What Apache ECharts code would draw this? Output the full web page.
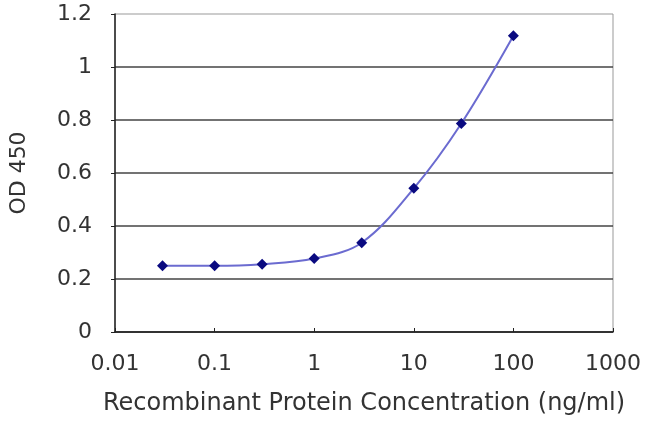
<!DOCTYPE html>
<html>
<head>
<meta charset="utf-8">
<script src="https://cdn.jsdelivr.net/npm/echarts@6/dist/echarts.min.js"></script>
<style>
  html, body { margin: 0; padding: 0; background: #fff; }
  #chart { width: 650px; height: 433px; }
</style>
</head>
<body>
<div id="chart"></div>
<script>
// concentrations (ng/ml) and OD 450 readings
const concentrations = [0.03, 0.1, 0.3, 1, 3, 10, 30, 100]
const od450 = [0.25, 0.25, 0.256, 0.277, 0.337, 0.542, 0.787, 1.118]

const points = concentrations.map((c, i) => [c, od450[i]])

const labelFont = { fontFamily: 'DejaVu Sans', fontSize: 22, color: '#333' }

const myChart = echarts.init(document.getElementById('chart'))
myChart.setOption({
  animation: false,
  grid: {
    left: 113, right: 37, top: 14, bottom: 101,
    show: true, borderColor: '#999', borderWidth: 1, backgroundColor: '#fff'
  },
  xAxis: {
    type: 'log',
    logBase: 10,
    min: 0.01,
    max: 1000,
    name: 'Recombinant Protein Concentration (ng/ml)',
    nameLocation: 'middle',
    nameGap: 60,
    nameTextStyle: Object.assign({}, labelFont, { fontSize: 24 }),
    axisLine: { lineStyle: { color: '#222', width: 1.5 } },
    axisTick: { inside: true, length: 4, lineStyle: { color: '#222' } },
    axisLabel: Object.assign({ margin: 21, formatter: v => String(+v.toPrecision(6)) }, labelFont),
    splitLine: { show: false }
  },
  yAxis: {
    type: 'value',
    min: 0,
    max: 1.2,
    interval: 0.2,
    name: 'OD 450',
    nameLocation: 'middle',
    nameGap: 85,
    nameTextStyle: labelFont,
    axisLine: { show: true, lineStyle: { color: '#222', width: 1.5 } },
    axisTick: { show: true, length: 4, lineStyle: { color: '#222' } },
    axisLabel: Object.assign({
      margin: 23,
      formatter: v => String(Math.round(v * 10) / 10)
    }, labelFont),
    splitLine: { show: true, showMaxLine: false, lineStyle: { color: '#444', width: 1.5 } }
  },
  series: [
    {
      type: 'line',
      data: points,
      smooth: 0.35,
      symbol: 'diamond',
      symbolSize: 11,
      lineStyle: { color: '#6b6bd0', width: 2 },
      itemStyle: { color: '#0a0a80' }
    }
  ]
})
</script>
</body>
</html>
